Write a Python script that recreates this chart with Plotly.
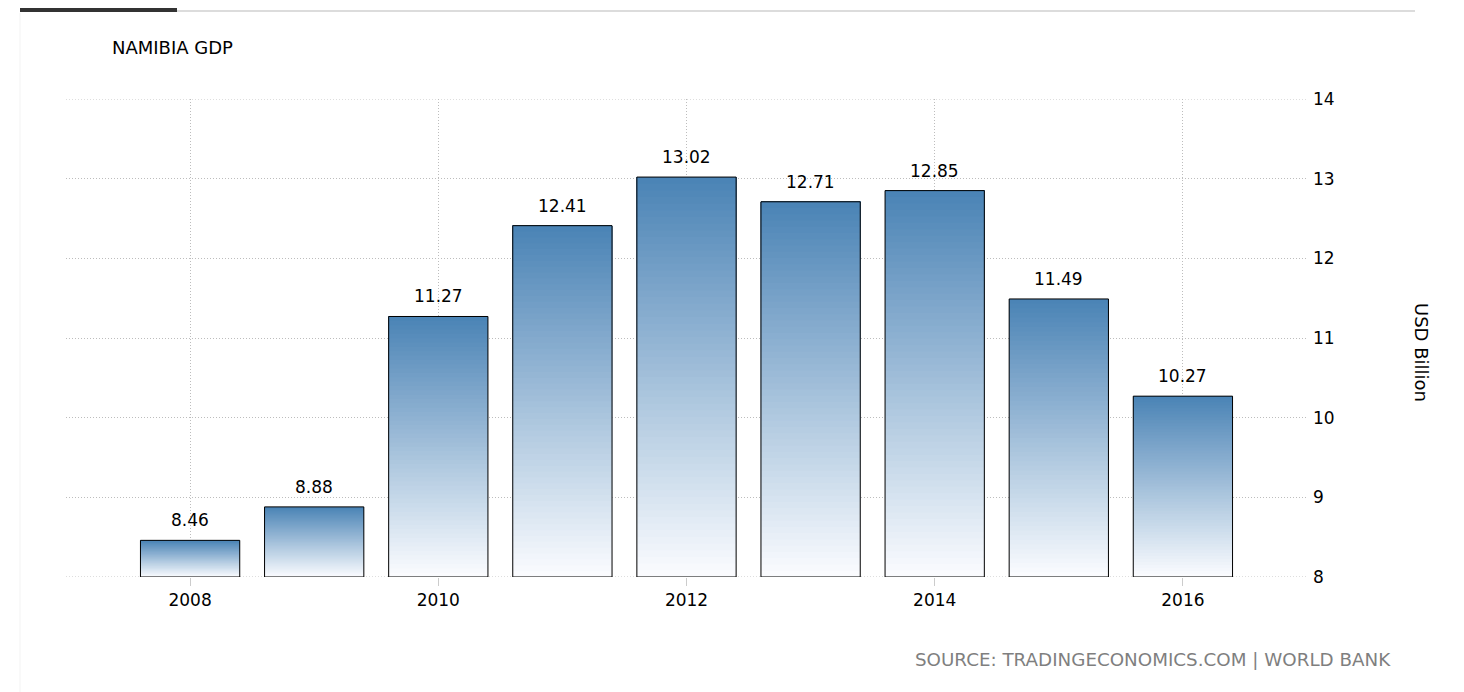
import plotly.graph_objects as go

years = [2008, 2009, 2010, 2011, 2012, 2013, 2014, 2015, 2016]
gdp = [8.46, 8.88, 11.27, 12.41, 13.02, 12.71, 12.85, 11.49, 10.27]
value_labels = ["8.46", "8.88", "11.27", "12.41", "13.02", "12.71", "12.85", "11.49", "10.27"]
y_ticks = [8, 9, 10, 11, 12, 13, 14]
x_ticks = [2008, 2010, 2012, 2014, 2016]

BASE = 8
TOP_RGB = (74, 131, 181)
BOT_RGB = (251, 252, 255)
N = 60
FONT = "DejaVu Sans"

# page offset (browser body margin)
OFF = 8
FW, FH = 1464 - OFF, 692 - OFF

fig = go.Figure()

# gradient: segment k covers from its base to the bar top; later segments paint over
for k in range(N):
    f = (k + 0.5) / N
    c = tuple(round(BOT_RGB[i] + (TOP_RGB[i] - BOT_RGB[i]) * f) for i in range(3))
    bases = [BASE + (v - BASE) * k / N for v in gdp]
    heights = [v - b for v, b in zip(gdp, bases)]
    fig.add_trace(go.Bar(
        x=years, y=heights, base=bases, width=0.8,
        marker=dict(color="rgb(%d,%d,%d)" % c, line=dict(width=0)),
        hoverinfo="skip", showlegend=False,
    ))

# outline
fig.add_trace(go.Bar(
    x=years, y=[v - BASE for v in gdp], base=[BASE] * len(gdp), width=0.8,
    marker=dict(color="rgba(0,0,0,0)", line=dict(color="black", width=1)),
    hoverinfo="skip", showlegend=False,
))

annotations = []
for x, v, t in zip(years, gdp, value_labels):
    annotations.append(dict(x=x, y=v, text=t, showarrow=False, xref="x", yref="y",
                            yanchor="bottom", yshift=8,
                            font=dict(family=FONT, size=17, color="black")))

# plot area in page pixels
L, R, T, B = 66, 1307, 99, 577
W = R - L
H = B - T
def px(x):
    return (x - L) / W
def py(y):
    return (B - y) / H

annotations += [
    dict(text="NAMIBIA GDP", x=px(110), y=py(47), xref="paper", yref="paper",
         xanchor="left", yanchor="middle", showarrow=False,
         font=dict(family=FONT, size=18, color="black")),
    dict(text="USD Billion", x=px(1422), y=py(352), xref="paper", yref="paper",
         xanchor="center", yanchor="middle", showarrow=False, textangle=90,
         font=dict(family=FONT, size=18, color="black")),
    dict(text="SOURCE: TRADINGECONOMICS.COM | WORLD BANK", x=px(1393), y=py(659),
         xref="paper", yref="paper", xanchor="right", yanchor="middle", showarrow=False,
         font=dict(family=FONT, size=18.3, color="#7f7f7f")),
]

GRID = "#bdbdbd"
shapes = [
    dict(type="line", xref="paper", yref="paper", x0=px(177), x1=px(1415), y0=py(11), y1=py(11),
         line=dict(color="#dcdcdc", width=2)),
    dict(type="line", xref="paper", yref="paper", x0=px(20), x1=px(177), y0=py(10), y1=py(10),
         line=dict(color="#333333", width=4)),
    dict(type="line", xref="paper", yref="paper", x0=px(20), x1=px(20), y0=py(13), y1=py(692),
         line=dict(color="#f3f3f3", width=1)),
]
# edge gridlines (plotly skips gridlines on the plot border)
for yv in (y_ticks[0], y_ticks[-1]):
    shapes.append(dict(type="line", xref="paper", yref="y", x0=0, x1=1, y0=yv, y1=yv,
                       layer="below", line=dict(color=GRID, width=1, dash="1px,2px")))

fig.update_layout(
    width=FW, height=FH,
    margin=dict(l=L - OFF, r=FW - (R - OFF), t=T - OFF, b=FH - (B - OFF)),
    paper_bgcolor="white", plot_bgcolor="white",
    barmode="overlay", bargap=0.2,
    showlegend=False,
    annotations=annotations, shapes=shapes,
    font=dict(family=FONT, size=16, color="black"),
    xaxis=dict(range=[2007, 2017], tickvals=x_ticks, ticktext=[str(t) for t in x_ticks],
               showgrid=True, gridcolor=GRID, griddash="1px,2px", gridwidth=1,
               ticks="outside", ticklen=8, tickcolor="#cccccc", tickwidth=1,
               showline=False, zeroline=False,
               tickfont=dict(family=FONT, size=17, color="black")),
    yaxis=dict(range=[8, 14], tickvals=y_ticks, side="right",
               showgrid=True, gridcolor=GRID, griddash="1px,2px", gridwidth=1,
               ticks="", showline=False, zeroline=False, ticklabelstandoff=5,
               tickfont=dict(family=FONT, size=17, color="black")),
)

fig.write_html("out.html")
